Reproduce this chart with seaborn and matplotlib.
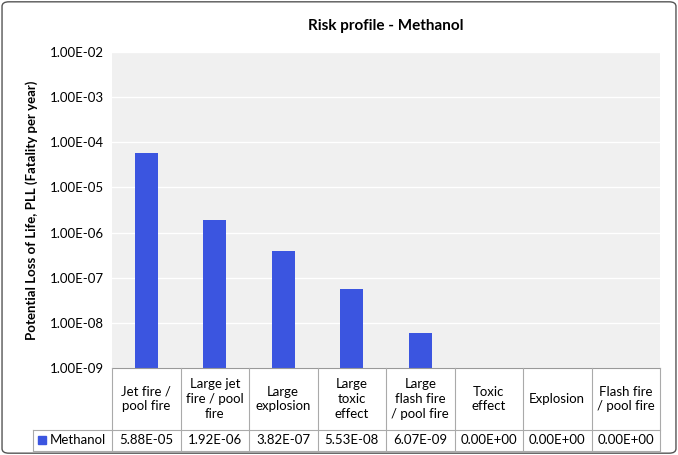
import numpy as np
import pandas as pd
import matplotlib
matplotlib.use("Agg")
import matplotlib.pyplot as plt
import seaborn as sns
from matplotlib.patches import FancyBboxPatch, Rectangle

categories = ["Jet fire /\npool fire", "Large jet\nfire / pool\nfire", "Large\nexplosion",
              "Large\ntoxic\neffect", "Large\nflash fire\n/ pool fire", "Toxic\neffect",
              "Explosion", "Flash fire\n/ pool fire"]
values = [5.88e-05, 1.92e-06, 3.82e-07, 5.53e-08, 6.07e-09, 0.0, 0.0, 0.0]
value_labels = ["5.88E-05", "1.92E-06", "3.82E-07", "5.53E-08", "6.07E-09",
                "0.00E+00", "0.00E+00", "0.00E+00"]
series_name = "Methanol"
color = "#3b55e0"

plt.rcParams["font.family"] = "Lato"
fig = plt.figure(figsize=(6.78, 4.55), dpi=100)
W, H = 678, 455
L, R, T, B = 112, 660, 52, 368
ax = fig.add_axes([L / W, 1 - B / H, (R - L) / W, (B - T) / H])

df = pd.DataFrame({"cat": range(len(categories)),
                   "val": [v if v > 0 else np.nan for v in values]})
sns.barplot(data=df, x="cat", y="val", color=color, width=0.33, ax=ax, saturation=1)
ax.set_yscale("log")
ax.set_ylim(1e-9, 1e-2)
ax.set_xlim(-0.5, len(categories) - 0.5)
ax.set_facecolor("#f0f0f0")
ax.grid(axis="y", color="white", linewidth=1)
ax.set_axisbelow(True)
ticks = [10.0 ** e for e in range(-9, -1)]
ax.set_yticks(ticks)
ax.set_yticklabels([f"1.00E-{-e:02d}" for e in range(-9, -1)], fontsize=9.5)
ax.minorticks_off()
ax.tick_params(axis="y", length=0, pad=6)
ax.set_xticks([])
ax.set_xlabel("")
ax.set_ylabel("Potential Loss of Life, PLL (Fatality per year)", fontsize=9.5,
              fontweight="bold", labelpad=8)
for s in ["top", "right", "left"]:
    ax.spines[s].set_visible(False)
ax.spines["bottom"].set_color("#999999")
ax.set_title("Risk profile - Methanol", fontsize=11, fontweight="bold", pad=16)

# table
cw = (R - L) / len(categories)
row1_b, row2_b = 430, 451
def fx(x): return x / W
def fy(y): return 1 - y / H
lc = "#aaaaaa"
fig.add_artist(plt.Line2D([fx(L), fx(R)], [fy(row1_b)] * 2, color=lc, lw=0.8))
fig.add_artist(plt.Line2D([fx(33), fx(R)], [fy(row2_b)] * 2, color=lc, lw=0.8))
fig.add_artist(plt.Line2D([fx(33), fx(L)], [fy(row1_b)] * 2, color=lc, lw=0.8))
fig.add_artist(plt.Line2D([fx(33)] * 2, [fy(row1_b), fy(row2_b)], color=lc, lw=0.8))
for i in range(len(categories) + 1):
    x = L + i * cw
    fig.add_artist(plt.Line2D([fx(x)] * 2, [fy(B), fy(row2_b)], color=lc, lw=0.8))
for i, (c, v) in enumerate(zip(categories, value_labels)):
    xc = L + (i + 0.5) * cw
    fig.text(fx(xc), fy((B + row1_b) / 2), c, ha="center", va="center", fontsize=9.5,
             linespacing=1.25)
    fig.text(fx(xc), fy((row1_b + row2_b) / 2), v, ha="center", va="center", fontsize=9.5)
fig.add_artist(Rectangle((fx(38), fy(444)), 8 / W, 8 / H, color=color))
fig.text(fx(50), fy((row1_b + row2_b) / 2), series_name, ha="left", va="center", fontsize=9.5)

fig.add_artist(FancyBboxPatch((0.003, 0.004), 0.994, 0.992,
                              boxstyle="round,pad=0,rounding_size=0.01",
                              fill=False, ec="#555555", lw=1, transform=fig.transFigure))
fig.savefig("out.png", dpi=100)
